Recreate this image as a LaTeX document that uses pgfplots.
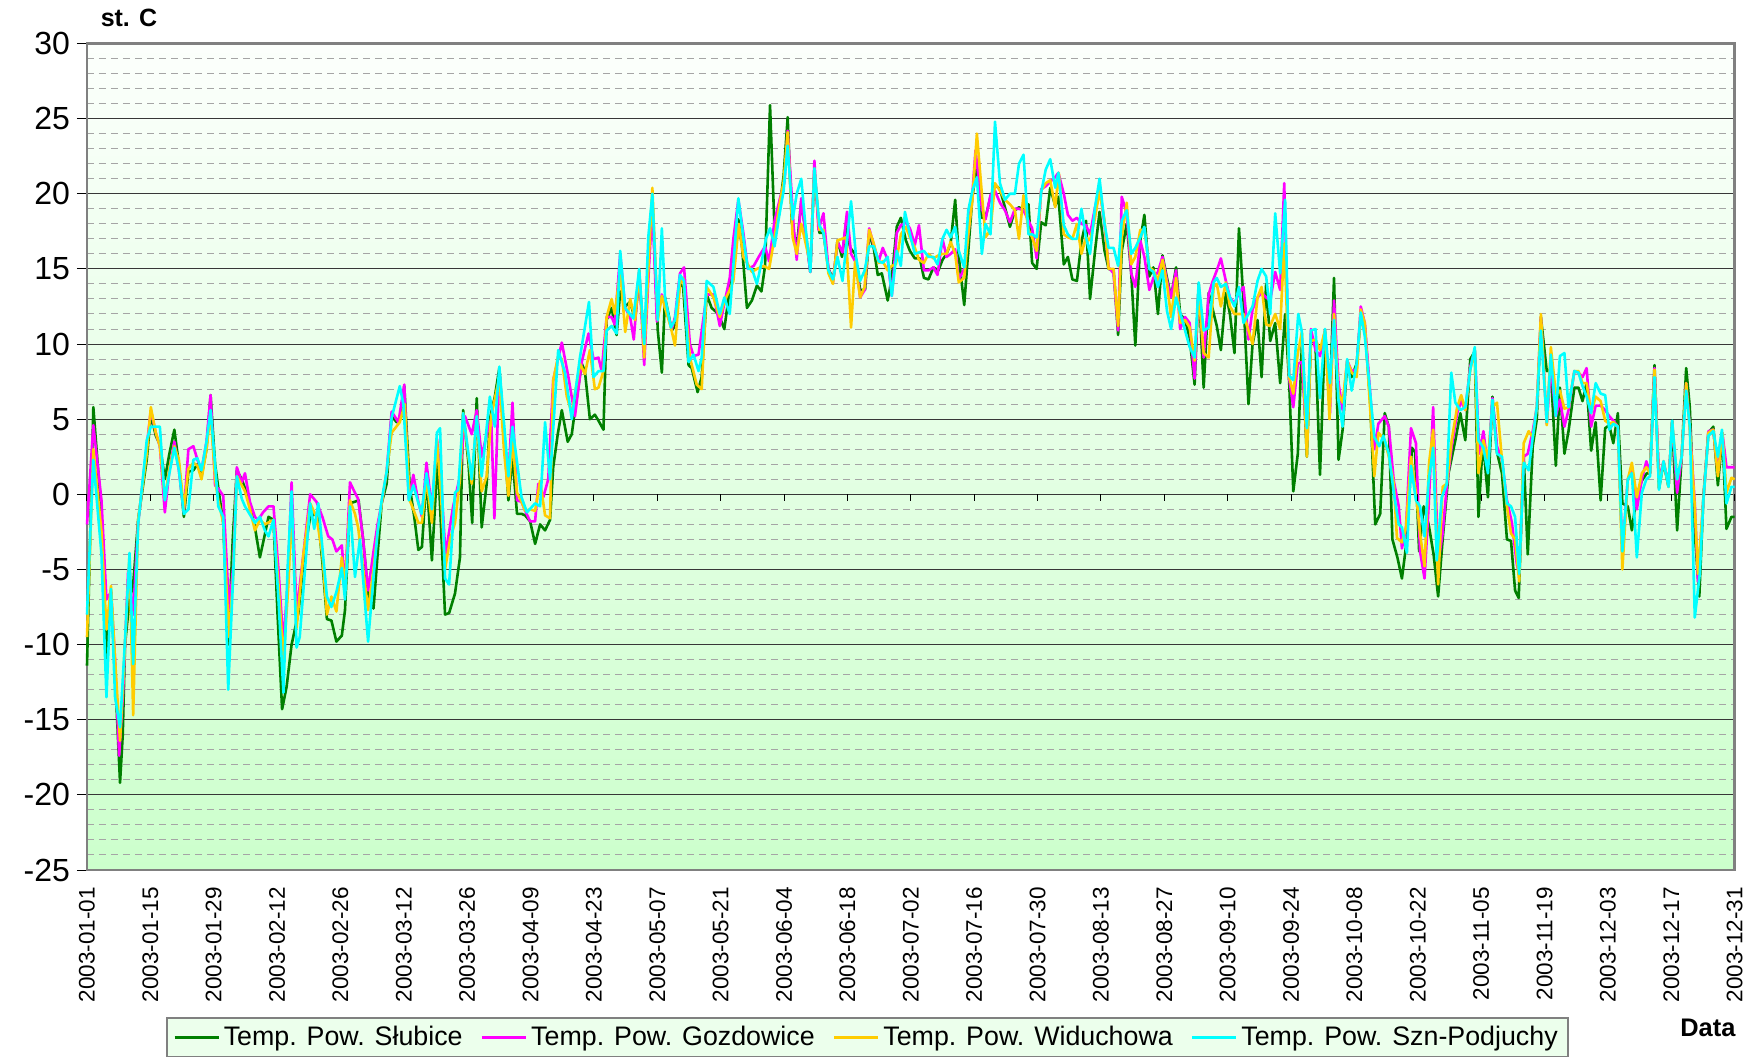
\documentclass[border=0pt]{standalone}
\usepackage{fontspec}
\setmainfont{Liberation Sans}
\usepackage{pgfplots}
\pgfplotsset{compat=1.18}
\definecolor{cGreen}{RGB}{0,128,0}
\definecolor{cMag}{RGB}{255,0,255}
\definecolor{cOrange}{RGB}{255,204,0}
\definecolor{cCyan}{RGB}{0,255,255}
\definecolor{bgTop}{RGB}{252,255,252}
\definecolor{bgBot}{RGB}{204,255,204}
\definecolor{frameGray}{RGB}{128,128,128}
\definecolor{minorGray}{RGB}{165,165,165}
\definecolor{majorGray}{RGB}{55,55,55}
\definecolor{legBg}{RGB}{236,255,236}
\begin{document}
\begin{tikzpicture}
\useasboundingbox (-43.5pt,-94.5pt) rectangle (831pt,435pt);
\begin{axis}[
  at={(0,0)}, anchor=south west,
  scale only axis, width=823.8pt, height=413.25pt,
  clip=false,
  xmin=0, xmax=364, ymin=-25, ymax=30,
  xtick={0,14,...,364},
  xticklabels={2003-01-01,2003-01-15,2003-01-29,2003-02-12,2003-02-26,2003-03-12,2003-03-26,2003-04-09,2003-04-23,2003-05-07,2003-05-21,2003-06-04,2003-06-18,2003-07-02,2003-07-16,2003-07-30,2003-08-13,2003-08-27,2003-09-10,2003-09-24,2003-10-08,2003-10-22,2003-11-05,2003-11-19,2003-12-03,2003-12-17,2003-12-31},
  xticklabel style={rotate=90, anchor=east, font=\fontsize{11.25}{12}\selectfont},
  xtick style={draw=none},
  ytick={-25,-20,...,30},
  minor y tick num=4,
  yticklabel style={font=\fontsize{16}{16}\selectfont},
  /pgf/number format/assume math mode=true,
  ytick style={draw=black, line width=0.5pt},
  tick align=outside, major tick length=5pt, minor tick length=0pt,
  xtick pos=bottom, ytick pos=left,
  ymajorgrids=true, yminorgrids=true,
  major grid style={draw=majorGray, line width=0.5pt},
  minor grid style={draw=minorGray, line width=0.5pt, dash pattern=on 3.5pt off 2.5pt},
  axis line style={draw=frameGray, line width=1.2pt},
  axis background/.style={top color=bgTop, bottom color=bgBot},
  legend columns=4,
  legend style={at={(0.4737,-0.2026)}, anchor=center, draw=frameGray, fill=legBg, line width=0.8pt,
    font=\fontsize{13.4}{15}\selectfont, inner xsep=3pt, inner ysep=2pt,
    /tikz/every even column/.append style={column sep=7pt}},
  legend image code/.code={\draw[#1, line width=1.3pt] (0pt,0pt) -- (22pt,0pt);},
  every axis plot/.append style={line width=1.3pt, mark=none, line join=round},
]
\addplot[cGreen] coordinates {
(0,-11.4) (1.4,5.8) (3.2,-1.3) (4.3,-11) (5.3,-6.5) (6.2,-12) (7.3,-19.2) (7.9,-16) (8.4,-10) (9.4,-7) (10.2,-6) (11.3,-1.7) (13.2,2.3) (14.1,5.3) (15.2,3.9) (16.1,3.3) (17.2,1.0) (18.2,2.7) (19.3,4.3) (20.3,2.0) (21.4,-1.5) (22.4,1.5) (23.5,1.6) (24.4,2.0) (25.3,1.2) (26.4,3.0) (27.3,6.6) (28.3,2.0) (29.2,0.0) (30.1,-1.9) (31.2,-10) (32.2,-3) (33.1,1.6) (34.2,1.0)
(34.9,0.4) (36.0,-0.8) (37.1,-2.2) (38.2,-4.2) (39.2,-2.8) (40.1,-1.5) (41.2,-1.7) (42.1,-8) (43.1,-14.3) (44.1,-12.8) (45.2,-10) (46.7,-7.9) (48.0,-4) (49.3,-1.5) (50.4,-1.3) (51.1,-1.7) (52.0,-4.5) (53.0,-8.3) (54.0,-8.4) (55.1,-9.8) (56.3,-9.4) (57.0,-7.7) (58.1,-0.6) (59.1,-0.5) (60.0,-0.4) (61.0,-3) (62.1,-6.6) (63.3,-7.6) (64.2,-4) (65.1,-0.6) (66.2,0.7) (67.3,5.2) (68.4,4.8) (69.5,5.2) (70.1,7.2) (71.3,0.5) (72.3,-1.5)
(73.2,-3.7) (74.0,-3.5) (75.0,1.2) (76.2,-4.4) (77.5,2.5) (79.1,-8.0) (80.0,-7.9) (81.3,-6.6) (82.4,-4.2) (83.1,5.6) (84.3,2.0) (85.1,-1.9) (86.1,6.4) (87.2,-2.2) (88.3,0.7) (89.0,5.0) (90.1,6.5) (91.1,8.4) (92.1,4.0) (93.1,-0.4) (94.0,2.5) (95.0,-1.3) (96.0,-1.3) (96.8,-1.4) (97.9,-1.8) (99.0,-3.3) (100.1,-2.0) (101.2,-2.4) (102.3,-1.7) (103.0,1.8) (104.0,4.0) (104.9,5.6) (106.2,3.5) (107.1,4.0)
(107.8,5.6) (109.3,8.7) (110.0,8.2) (111.1,5.0) (112.2,5.3) (113.0,4.9) (114.1,4.3) (114.8,11.6) (115.9,12.4) (117.0,10.6) (117.8,13.5) (118.9,12.5) (120.0,12.8) (121.1,11.6) (122.0,14.5) (123.1,10.0) (124.0,15.0) (124.9,19.6) (126.1,10.9) (127.0,8.1) (127.7,13.1) (129.2,10.9) (129.9,11.2) (131.0,14.0) (131.7,13.8) (132.9,8.6) (133.6,8.4) (134.9,6.8) (135.8,7.8) (136.9,13.3) (138.0,12.4) (139.5,12.0) (140.8,11.0) (141.7,13.0)
(142.8,15.5) (143.9,18.3) (144.7,16.5) (145.8,12.4) (146.9,12.9) (148.0,13.9) (149.0,13.5) (149.8,15.2) (150.9,25.9) (151.9,17.6) (152.8,18.5) (153.9,21.2) (154.8,25.1) (155.7,18.1) (156.8,16.4) (157.8,19.5) (158.7,17.6) (159.8,14.8) (160.7,21.5) (161.8,17.4) (162.7,17.4) (163.8,15.0) (164.9,14.3) (165.8,16.9) (166.8,15.8) (167.7,18.0) (168.6,16.4) (169.7,16.0) (170.8,13.6) (171.9,13.6) (172.8,17.3) (173.8,16.4) (174.7,14.6) (175.6,14.7) (176.9,12.9) (177.8,14.4)
(178.9,17.8) (179.8,18.4) (180.9,16.9) (181.8,16.2) (182.9,15.7) (184.0,15.7) (184.9,14.4) (185.9,14.3) (187.0,15.1) (188.1,14.9) (189.0,15.6) (189.9,16.0) (190.8,16.7) (191.8,19.6) (192.6,15.8) (193.8,12.6) (194.7,16.2) (195.6,19.8) (196.6,21.8) (197.7,18.4) (198.5,18.4) (199.6,19.8) (200.6,20.6) (201.7,20.3) (202.8,19.1) (203.9,17.8) (205.0,18.9) (205.9,19.1) (206.9,18.9) (208.0,19.3) (208.8,15.4) (209.8,15.0) (210.8,18.1) (211.8,17.9) (212.8,20.4)
(213.9,19.2) (214.6,19.8) (215.8,15.3) (216.7,15.8) (217.7,14.3) (218.7,14.2) (219.7,16.8) (220.7,18.2) (221.6,13.0) (222.7,16.2) (223.7,18.8) (224.8,16.2) (225.7,15.0) (226.8,14.9) (227.8,10.6) (228.6,16.2) (229.7,18.0) (230.7,14.7) (231.6,9.9) (232.7,16.9) (233.6,18.6) (234.7,14.5) (235.6,15.1) (236.6,12.0) (237.6,15.9) (238.6,14.4) (239.5,13.1) (240.6,15.1) (241.5,12.0) (242.6,11.6) (243.6,10.4) (244.7,7.3) (245.6,14.0) (246.7,7.1) (247.8,13.4)
(249.6,11.2) (250.5,9.6) (251.6,13.4) (252.5,12.0) (253.5,9.4) (254.5,17.7) (255.5,12.9) (256.6,6.0) (257.5,10.0) (258.6,11.6) (259.5,7.8) (260.5,14.0) (261.4,10.2) (262.5,11.4) (263.6,7.4) (264.7,12.0) (265.6,7.4) (266.5,0.2) (267.5,2.7) (268.4,10.0) (269.5,2.5) (270.4,10.3) (271.4,10.0) (272.4,1.3) (273.5,10.8) (274.6,6.5) (275.5,14.4) (276.5,2.3) (277.4,4.3) (278.4,8.7) (279.4,7.8) (280.5,8.7) (281.4,11.8) (282.3,11.2) (283.5,6.1)
(284.6,-2.0) (285.7,-1.3) (286.7,5.4) (287.6,4.5) (288.4,-3.0) (289.5,-4.2) (290.5,-5.6) (291.6,-3.0) (292.7,3.1) (293.4,2.8) (294.3,-3.8) (295.3,-0.8) (296.4,-2) (297.5,-4) (298.5,-6.8) (299.5,-3) (300.8,1.4) (302.3,3.6) (303.4,5.4) (304.5,3.6) (305.6,9.0) (306.6,9.5) (307.4,-1.5) (308.4,3.6) (309.5,-0.2) (310.5,6.5) (311.5,2.8) (312.6,1.4) (313.7,-3.0) (314.6,-3.1) (315.5,-6.4) (316.3,-6.9) (317.4,2.6) (318.3,-4.0) (319.4,3.2) (320.3,5.0)
(321.2,11.8) (322.5,8.2) (323.4,8.3) (324.5,1.9) (325.4,7.1) (326.4,2.7) (327.3,4.2) (328.6,7.1) (329.5,7.1) (330.4,6.2) (331.3,7.4) (332.3,2.9) (333.3,4.8) (334.4,-0.4) (335.4,4.4) (336.3,4.6) (337.2,3.4) (338.2,5.4) (339.2,-0.6) (340.4,-0.8) (341.3,-2.4) (342.4,0) (343.5,0.9) (344.6,1.4) (345.3,1.4) (346.3,8.6) (347.3,0.4) (348.3,2.1) (349.4,0.5) (350.2,4.9) (351.3,-2.4) (352.3,2.5) (353.3,8.4) (354.1,5.8) (355.2,-2.6) (356.2,-6.8) (357.1,-0.2) (358.2,4.1) (359.3,4.5) (360.3,0.6) (361.3,3.9) (362.2,-2.3) (363.3,-1.5) (364,-1.5)
};
\addlegendentry{Temp. Pow. Słubice}
\addplot[cMag] coordinates {
(0,-2.0) (1.4,4.6) (3.2,-0.4) (4.3,-7) (5.3,-6.5) (6.2,-11) (7.1,-17.4) (8.0,-13) (9.1,-5) (10.2,-8) (11.3,-1.9) (13.2,3.2) (14.1,5.6) (15.2,4.1) (16.1,3.2) (17.2,-1.2) (18.2,1.6) (19.3,3.5) (20.3,1.6) (21.4,-1.2) (22.4,3.0) (23.5,3.2) (24.4,2.3) (25.3,1.6) (26.4,3.5) (27.3,6.6) (28.3,0.6) (29.2,0.3) (30.1,-0.1) (31.4,-7.7) (32.3,-4.8) (33.1,1.8) (34.2,0.8)
(34.9,1.4) (36.0,-0.5) (37.1,-1.5) (37.8,-1.7) (38.9,-1.2) (40.1,-0.8) (41.2,-0.8) (42.3,-5) (43.4,-10.0) (44.3,-6) (45.2,0.8) (46.3,-7.9) (47.8,-4) (49.3,0) (50.7,-0.5) (52.0,-1.5) (53.3,-2.8) (54.2,-3.0) (55.1,-3.8) (56.3,-3.4) (57.0,-6.2) (58.1,0.8) (59.2,0.1) (59.9,-0.3) (61.0,-3) (62.1,-6.4) (63.3,-3.8) (64.2,-2) (65.1,-0.6) (66.2,1.5) (67.3,5.5) (68.8,4.8) (70.1,7.3) (71.1,-0.3) (72.1,1.3)
(73.2,-0.5) (74.0,-1.5) (75.0,2.1) (76.2,-1.0) (77.3,3.7) (78.2,1) (79.2,-4.0) (80.9,-0.8) (82.4,1.2) (83.5,5.2) (85.0,4.0) (86.1,5.6) (87.2,2.5) (88.3,4.0) (89.3,5) (90.0,-1.6) (91.1,8.2) (92.1,4) (93.1,1.1) (94.0,6.1) (95.0,-0.4) (96.0,-0.5) (96.8,-1.1) (97.9,-1.8) (99.0,-1.8) (99.7,0.7) (100.8,-0.2) (101.9,1.0) (103.0,7.6) (104.9,10.1) (106.3,7.9) (107.8,5.2)
(109.3,8.8) (110.8,10.7) (111.9,9.0) (113.0,9.1) (113.7,8.2) (114.8,11.8) (115.9,11.8) (116.6,11.3) (117.8,16.0) (118.9,12.4) (120.0,11.8) (120.8,10.3) (122.0,14.9) (123.1,8.6) (124.0,14.2) (124.9,19.3) (125.9,11.5) (127.0,13.3) (127.7,12.6) (129.2,11.0) (129.9,11.8) (131.0,14.7) (131.9,15.1) (133.2,10.0) (134.0,9.2) (135.1,9.3) (136.9,13.3) (138.4,13.3) (139.8,11.2) (140.8,12.7) (142.0,14.4)
(142.8,17) (143.9,19.6) (145.0,17.4) (146.0,15.0) (147.3,15.2) (148.4,15.8) (149.8,16.5) (150.7,15.5) (151.9,18.2) (153.1,19.7) (154.1,20.8) (154.8,24.2) (156.1,17.9) (156.8,15.6) (157.8,19.7) (158.7,17.4) (159.8,14.8) (160.7,22.2) (161.6,17.6) (162.7,18.7) (163.8,15.0) (164.8,14.1) (165.8,16.8) (166.9,16.1) (167.9,18.8) (168.8,16.0) (169.9,15.4) (170.8,13.1) (171.8,13.6) (172.8,17.7) (173.8,16.6) (174.9,15.5) (175.8,16.4) (176.9,15.6) (177.8,13.2)
(178.9,17.4) (179.8,17.9) (180.9,18.1) (181.8,17.7) (182.9,16.6) (183.8,17.9) (184.9,14.9) (185.9,14.9) (187.0,15.1) (187.9,14.6) (189.0,17.0) (189.9,15.8) (190.8,16.0) (191.8,16.3) (192.6,14.3) (193.8,15.0) (194.7,17.3) (195.6,20.0) (196.3,22.9) (197.7,19.0) (198.5,18.3) (199.6,19.9) (200.6,20.2) (201.7,19.4) (202.8,18.9) (203.9,18.1) (205.0,19.0) (205.9,19.0) (206.9,18.9) (208.0,18.2) (208.8,17.7) (209.8,15.7) (210.8,20.3) (211.8,20.5) (212.8,20.8) (213.9,21.1)
(214.6,21.4) (215.8,20.0) (216.7,18.6) (217.7,18.2) (218.7,18.4) (219.7,18.0) (220.7,17.9) (221.6,17.3) (222.7,19.1) (223.7,20.4) (224.8,18.0) (225.7,15.1) (226.8,14.7) (227.8,10.9) (228.6,19.8) (229.7,18.7) (230.7,14.7) (231.6,13.8) (232.7,16.9) (233.6,15.8) (234.7,13.6) (235.6,14.4) (236.6,14.8) (237.6,15.8) (238.6,14.2) (239.5,13.1) (240.6,14.9) (241.5,11.0) (242.6,11.8) (243.6,11.4) (244.7,7.7) (245.6,13.8) (246.7,9.1) (247.8,13.3)
(248.6,14.1) (249.6,14.9) (250.5,15.7) (251.6,14.2) (252.5,13.1) (253.5,12.7) (254.5,13.4) (255.5,13.8) (256.6,10.3) (257.5,12.3) (258.6,13.1) (259.5,13.4) (260.5,13.1) (261.4,12.9) (262.5,14.8) (263.6,13.6) (264.5,20.7) (265.6,7.7) (266.5,5.8) (267.5,8.7) (268.4,8.8) (269.5,3.4) (270.4,11.0) (271.4,9.6) (272.4,9.2) (273.5,10.9) (274.6,5.4) (275.5,12.9) (276.5,7.4) (277.4,5.6) (278.4,8.9) (279.4,8.2) (280.5,8.3) (281.4,12.5) (282.3,11.4) (283.5,6.7) (284.4,3.0) (285.3,4.7)
(286.7,5.2) (287.6,4.5) (288.7,0.9) (289.8,-0.8) (290.5,-3.6) (291.4,-2.2) (292.5,4.4) (293.6,3.4) (294.5,-3.8) (295.5,-5.6) (296.4,-0.8) (297.4,5.8) (298.5,-4.6) (299.5,-2.6) (300.4,0.5) (301.5,3.2) (302.7,5.4) (303.6,6.2) (304.5,5.6) (305.6,8.5) (306.6,9.6) (307.6,2.7) (308.5,4.2) (309.5,1.8) (310.5,6.4) (311.5,3.2) (312.6,2.3) (313.7,-0.4) (314.8,-1.9) (315.9,-4.7) (316.4,-5.3) (317.4,2.5) (318.3,2.7) (319.4,4.2) (320.3,5.8)
(321.2,11.8) (322.5,4.7) (323.4,8.5) (324.5,5.2) (325.4,6.3) (326.4,4.5) (327.3,5.6) (328.6,8.2) (329.5,8.1) (330.4,7.8) (331.3,8.4) (332.3,4.5) (333.3,5.9) (334.4,5.9) (335.4,5.6) (336.3,5.2) (337.2,4.9) (338.2,4.5) (339.2,-3.9) (340.4,1.0) (341.3,1.6) (342.4,-1.0) (343.5,1.0) (344.5,2.2) (345.3,1.4) (346.3,8.4) (347.3,1.0) (348.3,2.2) (349.4,0.6) (350.2,4.8) (351.3,0.1) (352.3,2.5) (353.3,7.4) (354.1,4.5) (355.2,-0.6) (355.9,-5.8) (357.1,-0.4) (358.2,4.2) (359.3,4.3) (360.3,1.4) (361.3,4.1) (362.2,1.8) (363.3,1.8) (364,1.8)
};
\addlegendentry{Temp. Pow. Gozdowice}
\addplot[cOrange] coordinates {
(0,-9.5) (1.4,3.0) (3.2,-2.5) (4.3,-9) (5.3,-6.1) (6.2,-11) (7.3,-16.4) (8.4,-10) (9.4,-4) (10.2,-14.7) (11.3,-1.7) (13.2,2.7) (14.1,5.8) (15.2,4.1) (16.1,3.2) (17.2,-0.3) (18.2,1.7) (19.3,3.2) (20.3,2.3) (21.4,-1.0) (22.4,1.7) (23.5,2.1) (24.4,1.9) (25.3,1.0) (26.4,3) (27.3,5.4) (28.3,1) (29.0,-0.4) (30.1,-1.9) (31.4,-9.5) (32.3,-5.4) (33.1,1.2) (34.2,0.6)
(34.9,0.2) (36.0,-1) (37.1,-2.4) (38.2,-1.7) (39.3,-2) (41.2,-1.7) (42.3,-6) (43.4,-11.0) (44.5,-6) (45.2,-1) (46.3,-8.9) (47.8,-4) (49.3,-0.6) (50.7,-1.5) (52.0,-4) (53.0,-8.0) (54.0,-6.8) (55.1,-7.8) (56.3,-4.2) (57.0,-6.2) (58.1,-0.4) (59.2,-1.3) (59.9,-2.2) (61.0,-5) (62.1,-7.7) (63.3,-5) (64.2,-2.5) (65.1,-0.6) (66.2,1.5) (67.3,4.1) (69.1,4.8) (70.2,6.0) (71.3,-0.4) (72.1,-1)
(73.2,-1.9) (74.0,-1.9) (75.0,1.0) (76.2,-1.9) (77.3,3.6) (78.2,0) (79.1,-5.0) (80.2,-3) (81.3,-1.9) (82.4,1) (83.1,5.4) (85.0,0.7) (86.1,5.2) (87.2,0.2) (88.3,1.2) (89.3,5.2) (91.1,7.8) (92.1,3) (93.1,-0.1) (94.0,3.6) (95.0,0.1) (96.0,-0.5) (96.8,-1.1) (97.9,-1.0) (99.0,-1.1) (100.1,0.9) (101.2,-1.4) (102.3,-1.6) (103.0,7.6) (104.1,9.2) (104.9,9.0) (106.0,6.5) (107.1,5.4)
(108.9,8.7) (110.0,8.0) (111.1,9.6) (112.2,7.0) (113.0,7.1) (114.1,8.2) (114.8,11.8) (115.9,13.0) (116.6,12.0) (117.8,14.9) (118.9,10.8) (120.0,13.0) (121.1,11.6) (122.0,14.9) (123.1,9.1) (124.0,14.9) (124.9,20.4) (126.1,11.6) (127.0,13.2) (127.7,12.4) (129.0,11.1) (129.9,9.9) (131.0,14.0) (131.7,14.4) (133.2,9.1) (134.7,7.3) (135.8,7.0) (136.9,13.8) (138.4,13.1) (139.8,11.8) (140.9,12.9) (142.0,13.6) (142.8,14.2) (144.0,18.0)
(145.0,15.8) (146.2,15.2) (146.9,14.8) (148.0,15.0) (149.5,15.2) (150.7,15.0) (151.9,17.1) (153.0,19.3) (153.9,20.8) (154.8,24.1) (155.9,17.1) (156.8,16.0) (157.8,18.0) (158.7,16.8) (159.8,15.3) (160.7,21.7) (161.8,17.6) (162.7,17.6) (163.8,14.7) (164.8,14.0) (165.8,16.9) (166.8,17.0) (167.7,17.1) (168.8,11.1) (169.7,15.5) (170.8,13.1) (171.8,13.8) (172.8,17.6) (173.8,16.7) (174.9,15.4) (175.8,15.5) (176.9,14.9) (177.8,15.2) (178.7,15.3)
(179.8,17.3) (180.9,17.8) (181.8,17.1) (182.9,16.4) (183.8,15.6) (184.9,15.4) (185.9,16.0) (187.0,15.7) (188.1,15.9) (189.0,16.0) (189.9,16.0) (190.8,16.8) (191.8,16.0) (192.6,14.1) (193.8,14.4) (194.7,17.3) (195.6,19.6) (196.6,24.0) (197.7,20.0) (198.5,17.1) (199.6,17.6) (200.6,20.7) (201.7,20.2) (202.8,19.6) (203.9,19.3) (205.0,18.9) (205.9,17.0) (206.9,19.9) (208.0,17.6) (208.8,17.1) (209.8,16.2) (210.8,20.2) (211.8,20.7) (212.8,20.9) (213.9,19.1) (214.7,21.4)
(215.8,17.3) (216.7,17.1) (217.7,17.0) (218.7,18.0) (219.7,16.0) (220.7,17.1) (221.6,16.9) (222.7,18.4) (223.7,20.2) (224.8,18.2) (225.7,15.0) (226.8,15.0) (227.8,11.2) (228.6,17.1) (229.7,19.4) (230.7,15.3) (231.6,15.8) (232.7,17.6) (233.6,17.6) (234.7,15.1) (235.6,14.9) (236.6,14.2) (237.6,15.6) (238.6,14.0) (239.5,11.8) (240.6,14.4) (241.5,11.4) (242.6,11.6) (243.6,11.1) (244.7,8.9) (245.6,13.3) (246.7,9.4) (247.8,9.1) (248.9,13.8)
(249.6,14.0) (250.5,12.5) (251.6,14.1) (252.5,12.5) (253.5,12.0) (254.5,12.0) (255.5,12.0) (256.6,10.9) (257.5,10.0) (258.6,13.1) (259.5,13.8) (260.5,11.3) (261.4,11.2) (262.5,12.0) (263.6,11.0) (264.5,16.7) (265.6,7.8) (266.5,6.7) (267.5,9.4) (268.4,10.8) (269.5,2.5) (270.4,10.2) (271.4,10.3) (272.4,9.6) (273.5,10.9) (274.5,5.0) (275.5,12.0) (276.5,6.7) (277.4,6.1) (278.4,8.9) (279.4,8.1) (280.5,7.8) (281.4,12.3) (282.3,11.4) (283.5,5.6) (284.4,1.2) (285.3,4.1)
(286.7,3.6) (287.6,2.5) (288.7,0.7) (289.4,-2.9) (290.5,-3.2) (291.4,-2.2) (292.5,2.5) (293.6,0.1) (294.5,-2.6) (295.5,-4.8) (296.5,2.1) (297.4,4.3) (298.5,-6.0) (299.5,0.5) (300.4,0.7) (301.5,3.6) (302.7,5.8) (303.6,6.6) (304.5,5.6) (305.6,8.3) (306.6,9.6) (307.4,1.4) (308.5,3.6) (309.5,2.3) (310.5,5.8) (311.5,6.1) (312.6,2.3) (313.7,-0.8) (314.6,-2.6) (315.5,-3.0) (316.4,-5.8) (317.4,3.4) (318.5,4.2) (319.4,3.8) (320.3,5.8)
(321.2,12.0) (322.5,4.6) (323.4,9.8) (324.5,6.7) (325.4,6.9) (326.4,5.7) (327.3,5.8) (328.6,8.2) (329.5,8.2) (330.4,7.4) (331.3,7.4) (332.3,5.4) (333.3,6.5) (334.4,6.2) (335.4,4.9) (336.3,4.7) (337.2,4.8) (338.2,4.5) (339.2,-5.0) (340.4,1.0) (341.3,2.1) (342.4,-0.2) (343.5,1.4) (344.5,1.8) (345.3,1.4) (346.3,8.3) (347.3,0.5) (348.3,2.2) (349.4,0.5) (350.2,4.8) (351.3,1.0) (352.3,2.5) (353.3,7.4) (354.1,4.3) (355.2,-0.8) (355.9,-5.3) (357.1,-0.4) (358.2,4.1) (359.3,4.3) (360.3,1.2) (361.3,4.1) (362.2,0.1) (363.3,1.1) (364,1.0)
};
\addlegendentry{Temp. Pow. Widuchowa}
\addplot[cCyan] coordinates {
(0,-8.0) (1.4,2.3) (3.2,-4.0) (4.3,-13.5) (5.3,-6.3) (6.2,-13.5) (7.3,-15.5) (8.4,-9.7) (9.4,-3.9) (10.2,-11.3) (11.3,-2.0) (13.2,3.6) (14.1,4.5) (15.2,4.5) (16.1,4.5) (17.2,-0.4) (18.2,1.4) (19.3,3.1) (20.3,1.6) (21.4,-1.3) (22.4,-1.0) (23.5,2.3) (24.4,2.4) (25.3,1.6) (26.4,3.5) (27.3,5.6) (28.3,2) (29.0,-0.8) (30.1,-1.5) (31.2,-13.0) (32.3,-5.4) (33.1,1.2) (34.2,-0.3)
(34.9,-0.8) (37.1,-1.9) (38.2,-1.5) (39.3,-2.4) (40.1,-2.8) (41.2,-1.7) (42.3,-7) (43.4,-13.2) (44.3,-5) (45.2,0.2) (46.3,-10.2) (47.0,-9.5) (49.3,-0.6) (50.2,-2.3) (51.1,-0.6) (53.0,-6.8) (54.0,-7.5) (55.1,-6.5) (56.3,-4.9) (57.0,-7.0) (58.1,-0.8) (59.2,-5.5) (60.3,-3.0) (62.1,-9.8) (63.3,-5.5) (64.2,-2.5) (65.1,-0.4) (66.2,1.5) (67.3,5.1) (69.1,7.2) (69.9,6.0) (71.1,-0.4) (72.1,0.6)
(73.9,-1.3) (75.0,1.4) (76.2,-1.0) (77.3,4.1) (78.0,4.4) (79.1,-5.6) (80.0,-6.0) (81.3,0.1) (82.0,0.3) (83.1,5.4) (85.0,1.0) (86.1,5.2) (87.2,1.2) (89.0,6.5) (90.1,4.5) (91.1,8.5) (93.1,1.2) (94.0,4.5) (96.0,-0.2) (97.2,-1.2) (99.0,-0.6) (100.1,-0.8) (101.2,4.8) (102.3,1.0) (104.1,9.6) (105.6,8.1) (107.1,5.0) (108.9,9.1)
(110.9,12.8) (111.9,7.8) (113.0,8.2) (114.1,8.2) (114.8,10.9) (115.9,11.2) (117.0,10.7) (117.8,16.2) (118.9,12.4) (120.7,11.7) (122.0,15.0) (123.1,10.0) (124.0,17.1) (124.9,20.0) (126.1,11.6) (127.0,17.7) (127.7,13.1) (129.0,11.1) (129.9,11.6) (131.0,14.6) (131.9,14.2) (132.9,8.8) (134.0,9.3) (135.1,8.2) (135.8,9.1) (136.9,14.2) (138.4,13.8) (139.8,12.0) (140.8,13.1) (142.0,12.0) (143.9,19.7)
(145.0,17.1) (146.0,15.0) (146.9,15.0) (148.0,14.0) (149.0,15.4) (150.0,17.0) (150.9,17.7) (151.9,16.5) (152.8,18.3) (153.9,20.2) (154.8,23.2) (155.9,18.3) (156.8,20.0) (157.8,21.0) (158.8,17.6) (159.8,14.8) (160.7,21.7) (161.8,17.9) (162.7,17.4) (163.8,14.9) (164.8,14.3) (165.8,15.8) (166.9,14.2) (167.9,16.9) (168.8,19.5) (169.9,15.8) (170.8,14.2) (171.8,14.9) (172.8,16.5) (173.8,16.5) (174.9,15.5) (175.8,15.4) (176.9,15.8) (177.8,13.2)
(178.9,16.2) (179.8,15.2) (180.7,18.8) (181.8,17.3) (182.9,16.0) (183.8,16.1) (184.9,16.2) (185.9,15.8) (187.0,15.8) (187.9,15.3) (189.0,17.0) (189.9,17.6) (190.8,17.1) (191.8,17.8) (192.6,16.2) (193.8,15.1) (194.7,18.9) (195.6,20.2) (196.6,21.1) (197.7,16.0) (198.5,18.0) (199.6,17.3) (200.6,24.8) (201.7,20.7) (202.8,19.6) (203.9,20.0) (205.0,20.0) (205.9,22.0) (206.9,22.6) (208.0,17.3) (208.8,17.3) (209.8,17.1) (210.8,20.1) (211.8,21.6) (212.8,22.3) (213.9,20.4)
(214.6,21.4) (215.8,17.9) (216.7,17.3) (217.7,17.0) (218.7,17.0) (219.7,19.0) (220.7,17.1) (221.6,16.0) (222.7,19.1) (223.7,21.0) (224.8,18.0) (225.7,16.4) (226.8,16.4) (227.8,15.2) (228.6,18.2) (229.7,18.9) (230.7,16.0) (231.6,16.4) (232.7,17.1) (233.6,17.8) (234.7,15.0) (235.6,14.8) (236.6,13.8) (237.6,14.9) (238.6,12.2) (239.5,11.0) (240.6,13.1) (241.5,12.1) (242.6,10.9) (243.6,9.8) (244.7,9.1) (245.6,14.1) (246.7,10.9) (247.8,11.1) (248.9,14.1)
(249.6,14.4) (250.5,13.8) (251.6,14.0) (252.5,13.1) (253.5,12.5) (254.5,13.8) (255.5,11.4) (256.6,12.0) (257.5,12.5) (258.6,14.2) (259.5,15.0) (260.5,14.5) (261.4,12.0) (262.5,18.7) (263.6,14.7) (264.7,19.6) (265.6,7.9) (266.5,7.6) (267.6,12.0) (268.4,10.8) (269.5,4.4) (270.4,10.9) (271.4,11.0) (272.4,6.4) (273.5,11.0) (274.6,7.4) (275.5,11.6) (276.5,6.2) (277.4,4.5) (278.4,9.0) (279.4,6.9) (280.5,8.7) (281.4,12.1) (282.3,10.5) (283.5,6.7) (284.4,3.8)
(285.5,3.2) (286.4,3.9) (287.6,2.7) (288.7,0.1) (289.8,-2.0) (290.5,-2.2) (291.6,-3.9) (292.5,1.9) (293.6,-0.4) (294.5,-0.8) (295.5,-2.8) (296.4,0.9) (297.4,3.1) (298.2,-4.4) (299.3,-0.2) (300.4,0.7) (301.4,8.1) (302.3,6.1) (303.4,5.6) (304.5,5.8) (305.6,8.3) (306.6,9.8) (307.4,3.6) (308.5,3.1) (309.5,1.4) (310.5,6.3) (311.5,2.7) (312.6,2.5) (313.7,-0.6) (314.6,-0.8) (315.5,-1.5) (316.4,-5.3) (317.4,2.1) (318.5,1.6) (319.4,3.8) (320.3,5.8)
(321.2,10.9) (322.5,4.8) (323.4,9.3) (324.5,5.2) (325.4,9.2) (326.4,9.4) (327.3,5.8) (328.6,8.2) (329.5,8.1) (330.4,7.2) (331.3,6.5) (332.3,5.4) (333.3,7.4) (334.4,6.7) (335.4,6.6) (336.3,4.3) (337.2,4.7) (338.2,4.5) (339.2,-3.8) (340.4,1.0) (341.3,1.4) (342.4,-4.2) (343.5,0.1) (344.5,1.0) (345.3,1.2) (346.3,7.8) (347.3,0.3) (348.3,2.2) (349.4,0.5) (350.2,4.9) (351.3,1.0) (352.3,2.5) (353.3,6.9) (354.1,4.5) (355.2,-8.2) (356.3,-5.3) (357.1,-0.4) (358.2,3.9) (359.3,4.2) (360.3,2.5) (361.2,4.3) (362.2,-0.6) (363.3,0.5) (364,0.5)
};
\addlegendentry{Temp. Pow. Szn-Podjuchy}
\pgfplotsinvokeforeach{0,14,...,364}{\draw[black, line width=0.5pt] (axis cs:#1,0) -- ([yshift=-3.5pt]axis cs:#1,0);}
\node[font=\bfseries\fontsize{12.5}{13}\selectfont] at (rel axis cs:0.0255,1.031) {st. C};
\node[font=\bfseries\fontsize{12.7}{13}\selectfont] at (rel axis cs:0.9838,-0.191) {Data};
\end{axis}
\end{tikzpicture}
\end{document}
